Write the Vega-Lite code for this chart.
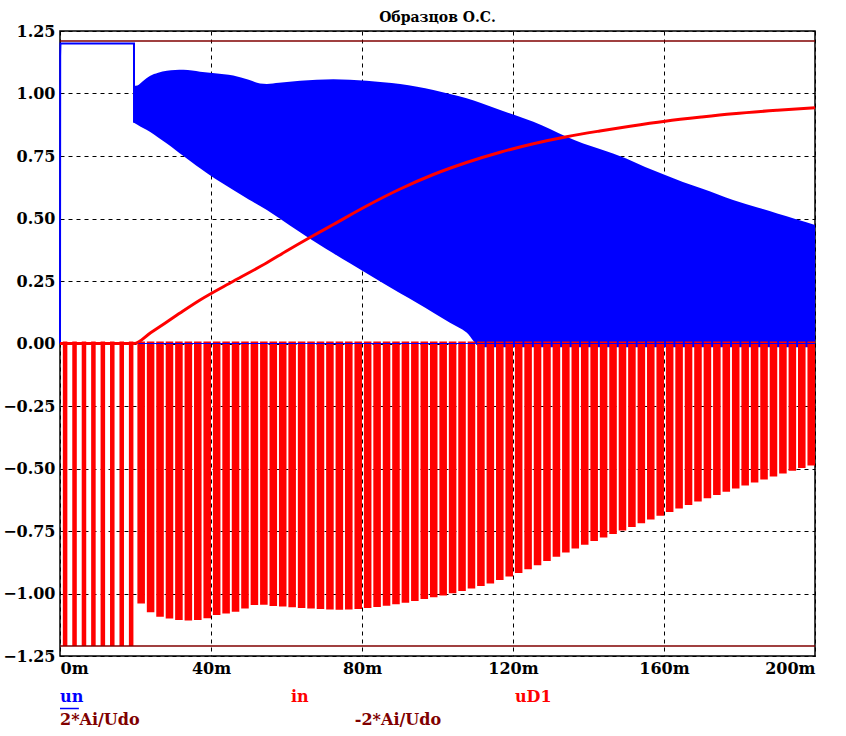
{
  "$schema": "https://vega.github.io/schema/vega-lite/v6.json",
  "autosize": {"type": "none"},
  "padding": {"left": 60, "top": 31, "right": 31, "bottom": 80},
  "width": 755,
  "height": 625,
  "background": "white",
  "title": {"text": "Образцов О.С.", "font": "DejaVu Serif", "fontWeight": "bold", "fontSize": 14, "color": "#000", "anchor": "middle", "offset": -2},
  "config": {
    "view": {"stroke": "#000", "strokeWidth": 1.5},
    "axis": {"labelFont": "DejaVu Serif", "labelFontWeight": "bold", "labelFontSize": 16, "labelColor": "#000", "ticks": false, "domain": false, "grid": true, "gridColor": "#000", "gridDash": [4, 4], "gridWidth": 1, "gridOpacity": 1, "title": null}
  },
  "datasets": {
    "band": [
      {"t": 19.6, "hi": 1.03, "lo": 0.883},
      {"t": 20.5, "hi": 1.032, "lo": 0.875},
      {"t": 22, "hi": 1.05, "lo": 0.862},
      {"t": 23.8, "hi": 1.07, "lo": 0.847},
      {"t": 26, "hi": 1.083, "lo": 0.824},
      {"t": 28.3, "hi": 1.091, "lo": 0.8},
      {"t": 30.5, "hi": 1.094, "lo": 0.775},
      {"t": 32.7, "hi": 1.095, "lo": 0.75},
      {"t": 35, "hi": 1.092, "lo": 0.724},
      {"t": 37.1, "hi": 1.087, "lo": 0.701},
      {"t": 41, "hi": 1.081, "lo": 0.66},
      {"t": 45.9, "hi": 1.072, "lo": 0.614},
      {"t": 50, "hi": 1.055, "lo": 0.576},
      {"t": 53, "hi": 1.04, "lo": 0.55},
      {"t": 54.8, "hi": 1.038, "lo": 0.534},
      {"t": 58, "hi": 1.043, "lo": 0.502},
      {"t": 63.6, "hi": 1.051, "lo": 0.445},
      {"t": 68, "hi": 1.055, "lo": 0.402},
      {"t": 72.4, "hi": 1.057, "lo": 0.361},
      {"t": 76.8, "hi": 1.055, "lo": 0.321},
      {"t": 81.2, "hi": 1.051, "lo": 0.281},
      {"t": 85.6, "hi": 1.045, "lo": 0.241},
      {"t": 90.1, "hi": 1.038, "lo": 0.201},
      {"t": 94.6, "hi": 1.027, "lo": 0.162},
      {"t": 98.9, "hi": 1.014, "lo": 0.123},
      {"t": 103.3, "hi": 0.998, "lo": 0.083},
      {"t": 107.7, "hi": 0.981, "lo": 0.044},
      {"t": 111.5, "hi": 0.962, "lo": -0.015},
      {"t": 116.6, "hi": 0.934, "lo": -0.015},
      {"t": 121, "hi": 0.911, "lo": -0.015},
      {"t": 125.4, "hi": 0.887, "lo": -0.015},
      {"t": 129.8, "hi": 0.858, "lo": -0.015},
      {"t": 134.2, "hi": 0.827, "lo": -0.015},
      {"t": 138.6, "hi": 0.8, "lo": -0.015},
      {"t": 143, "hi": 0.778, "lo": -0.015},
      {"t": 150, "hi": 0.74, "lo": -0.015},
      {"t": 155, "hi": 0.706, "lo": -0.015},
      {"t": 160.3, "hi": 0.674, "lo": -0.015},
      {"t": 165, "hi": 0.646, "lo": -0.015},
      {"t": 170, "hi": 0.62, "lo": -0.015},
      {"t": 178.3, "hi": 0.574, "lo": -0.015},
      {"t": 185, "hi": 0.543, "lo": -0.015},
      {"t": 190, "hi": 0.52, "lo": -0.015},
      {"t": 195, "hi": 0.497, "lo": -0.015},
      {"t": 200, "hi": 0.474, "lo": -0.015}
    ],
    "unStart": [
      {"t": 0, "v": 0},
      {"t": 0.05, "v": 1.15},
      {"t": 0.12, "v": 1.2},
      {"t": 19.6, "v": 1.2},
      {"t": 19.61, "v": 0.883}
    ],
    "unZero": [
      {"t": 19.6, "v": 0},
      {"t": 200, "v": 0}
    ],
    "inCurve": [
      {"t": 0, "v": 0},
      {"t": 19.6, "v": 0},
      {"t": 24, "v": 0.043},
      {"t": 28, "v": 0.083},
      {"t": 32.5, "v": 0.129},
      {"t": 37.1, "v": 0.174},
      {"t": 45.9, "v": 0.249},
      {"t": 54.8, "v": 0.323},
      {"t": 60, "v": 0.37},
      {"t": 66.2, "v": 0.424},
      {"t": 72.4, "v": 0.476},
      {"t": 81.2, "v": 0.55},
      {"t": 90.1, "v": 0.618},
      {"t": 98.9, "v": 0.676},
      {"t": 107.7, "v": 0.724},
      {"t": 116.6, "v": 0.765},
      {"t": 125.4, "v": 0.799},
      {"t": 134.2, "v": 0.827},
      {"t": 143, "v": 0.85},
      {"t": 151, "v": 0.869},
      {"t": 160.3, "v": 0.889},
      {"t": 170, "v": 0.906},
      {"t": 178.3, "v": 0.919},
      {"t": 190, "v": 0.933},
      {"t": 200, "v": 0.943}
    ],
    "spikes": [
      {"t0": 0.75, "t1": 1.95, "m": -1.21},
      {"t0": 3.25, "t1": 4.45, "m": -1.21},
      {"t0": 5.75, "t1": 6.95, "m": -1.21},
      {"t0": 8.25, "t1": 9.45, "m": -1.21},
      {"t0": 10.75, "t1": 11.95, "m": -1.21},
      {"t0": 13.25, "t1": 14.45, "m": -1.21},
      {"t0": 15.75, "t1": 16.95, "m": -1.21},
      {"t0": 18.25, "t1": 19.45, "m": -1.21},
      {"t0": 20.5, "t1": 22.5, "m": -1.04},
      {"t0": 23.0, "t1": 25.0, "m": -1.075},
      {"t0": 25.5, "t1": 27.5, "m": -1.093},
      {"t0": 28.0, "t1": 30.0, "m": -1.1},
      {"t0": 30.5, "t1": 32.5, "m": -1.106},
      {"t0": 33.0, "t1": 35.0, "m": -1.108},
      {"t0": 35.5, "t1": 37.5, "m": -1.106},
      {"t0": 38.0, "t1": 40.0, "m": -1.099},
      {"t0": 40.5, "t1": 42.5, "m": -1.086},
      {"t0": 43.0, "t1": 45.0, "m": -1.08},
      {"t0": 45.5, "t1": 47.5, "m": -1.073},
      {"t0": 48.0, "t1": 50.0, "m": -1.06},
      {"t0": 50.5, "t1": 52.5, "m": -1.046},
      {"t0": 53.0, "t1": 55.0, "m": -1.045},
      {"t0": 55.5, "t1": 57.5, "m": -1.05},
      {"t0": 58.0, "t1": 60.0, "m": -1.052},
      {"t0": 60.5, "t1": 62.5, "m": -1.055},
      {"t0": 63.0, "t1": 65.0, "m": -1.058},
      {"t0": 65.5, "t1": 67.5, "m": -1.06},
      {"t0": 68.0, "t1": 70.0, "m": -1.062},
      {"t0": 70.5, "t1": 72.5, "m": -1.064},
      {"t0": 73.0, "t1": 75.0, "m": -1.065},
      {"t0": 75.5, "t1": 77.5, "m": -1.064},
      {"t0": 78.0, "t1": 80.0, "m": -1.062},
      {"t0": 80.5, "t1": 82.5, "m": -1.058},
      {"t0": 83.0, "t1": 85.0, "m": -1.054},
      {"t0": 85.5, "t1": 87.5, "m": -1.049},
      {"t0": 88.0, "t1": 90.0, "m": -1.043},
      {"t0": 90.5, "t1": 92.5, "m": -1.037},
      {"t0": 93.0, "t1": 95.0, "m": -1.03},
      {"t0": 95.5, "t1": 97.5, "m": -1.022},
      {"t0": 98.0, "t1": 100.0, "m": -1.015},
      {"t0": 100.5, "t1": 102.5, "m": -1.008},
      {"t0": 103.0, "t1": 105.0, "m": -0.999},
      {"t0": 105.5, "t1": 107.5, "m": -0.99},
      {"t0": 108.0, "t1": 110.0, "m": -0.98},
      {"t0": 110.5, "t1": 112.5, "m": -0.97},
      {"t0": 113.0, "t1": 115.0, "m": -0.96},
      {"t0": 115.5, "t1": 117.5, "m": -0.946},
      {"t0": 118.0, "t1": 120.0, "m": -0.932},
      {"t0": 120.5, "t1": 122.5, "m": -0.918},
      {"t0": 123.0, "t1": 125.0, "m": -0.903},
      {"t0": 125.5, "t1": 127.5, "m": -0.887},
      {"t0": 128.0, "t1": 130.0, "m": -0.87},
      {"t0": 130.5, "t1": 132.5, "m": -0.853},
      {"t0": 133.0, "t1": 135.0, "m": -0.836},
      {"t0": 135.5, "t1": 137.5, "m": -0.82},
      {"t0": 138.0, "t1": 140.0, "m": -0.805},
      {"t0": 140.5, "t1": 142.5, "m": -0.79},
      {"t0": 143.0, "t1": 145.0, "m": -0.776},
      {"t0": 145.5, "t1": 147.5, "m": -0.762},
      {"t0": 148.0, "t1": 150.0, "m": -0.748},
      {"t0": 150.5, "t1": 152.5, "m": -0.734},
      {"t0": 153.0, "t1": 155.0, "m": -0.719},
      {"t0": 155.5, "t1": 157.5, "m": -0.704},
      {"t0": 158.0, "t1": 160.0, "m": -0.689},
      {"t0": 160.5, "t1": 162.5, "m": -0.674},
      {"t0": 163.0, "t1": 165.0, "m": -0.66},
      {"t0": 165.5, "t1": 167.5, "m": -0.646},
      {"t0": 168.0, "t1": 170.0, "m": -0.632},
      {"t0": 170.5, "t1": 172.5, "m": -0.619},
      {"t0": 173.0, "t1": 175.0, "m": -0.606},
      {"t0": 175.5, "t1": 177.5, "m": -0.593},
      {"t0": 178.0, "t1": 180.0, "m": -0.58},
      {"t0": 180.5, "t1": 182.5, "m": -0.568},
      {"t0": 183.0, "t1": 185.0, "m": -0.556},
      {"t0": 185.5, "t1": 187.5, "m": -0.544},
      {"t0": 188.0, "t1": 190.0, "m": -0.532},
      {"t0": 190.5, "t1": 192.5, "m": -0.52},
      {"t0": 193.0, "t1": 195.0, "m": -0.509},
      {"t0": 195.5, "t1": 197.5, "m": -0.498},
      {"t0": 198.0, "t1": 200.0, "m": -0.488}
    ],
    "limits": [
      {"v": 1.21},
      {"v": -1.21}
    ],
    "labels": [
      {"label": "un", "t": 0, "v": -1.414},
      {"label": "in", "t": 61.2, "v": -1.414},
      {"label": "uD1", "t": 120.5, "v": -1.414},
      {"label": "2*Ai/Udo", "t": 0, "v": -1.506},
      {"label": "-2*Ai/Udo", "t": 78.1, "v": -1.506}
    ]
  },
  "layer": [
    {
      "data": {"name": "band"},
      "mark": {"type": "area", "color": "#0000FF", "opacity": 1, "interpolate": "monotone"},
      "encoding": {
        "x": {"field": "t", "type": "quantitative", "scale": {"domain": [0, 200], "nice": false, "zero": false},
              "axis": {"values": [0, 40, 80, 120, 160, 200], "labelExpr": "datum.value + 'm'", "labelPadding": 4}},
        "y": {"field": "hi", "type": "quantitative", "scale": {"domain": [-1.25, 1.25], "nice": false, "zero": false},
              "axis": {"values": [-1.25, -1, -0.75, -0.5, -0.25, 0, 0.25, 0.5, 0.75, 1, 1.25], "format": ".2f", "labelPadding": 5}},
        "y2": {"field": "lo"}
      }
    },
    {
      "data": {"name": "spikes"},
      "mark": {"type": "rect", "color": "#FF0000"},
      "encoding": {
        "x": {"field": "t0", "type": "quantitative"},
        "x2": {"field": "t1"},
        "y": {"field": "m", "type": "quantitative"},
        "y2": {"datum": 0.008}
      }
    },
    {
      "data": {"name": "unStart"},
      "mark": {"type": "line", "color": "#0000FF", "strokeWidth": 2},
      "encoding": {
        "x": {"field": "t", "type": "quantitative"},
        "y": {"field": "v", "type": "quantitative"}
      }
    },
    {
      "data": {"name": "unZero"},
      "mark": {"type": "line", "color": "#0000FF", "strokeWidth": 1.2},
      "encoding": {
        "x": {"field": "t", "type": "quantitative"},
        "y": {"field": "v", "type": "quantitative"}
      }
    },
    {
      "data": {"name": "inCurve"},
      "mark": {"type": "line", "color": "#FF0000", "strokeWidth": 3, "interpolate": "monotone"},
      "encoding": {
        "x": {"field": "t", "type": "quantitative"},
        "y": {"field": "v", "type": "quantitative"}
      }
    },
    {
      "data": {"name": "limits"},
      "mark": {"type": "rule", "color": "#800000", "strokeWidth": 1.5},
      "encoding": {
        "y": {"field": "v", "type": "quantitative"}
      }
    },
    {
      "data": {"name": "labels"},
      "mark": {"type": "text", "align": "left", "baseline": "middle", "font": "DejaVu Serif", "fontWeight": "bold", "fontSize": 16},
      "encoding": {
        "x": {"field": "t", "type": "quantitative"},
        "y": {"field": "v", "type": "quantitative"},
        "text": {"field": "label"},
        "color": {"field": "label", "type": "nominal", "legend": null,
                  "scale": {"domain": ["un", "in", "uD1", "2*Ai/Udo", "-2*Ai/Udo"], "range": ["#0000FF", "#FF0000", "#FF0000", "#800000", "#800000"]}}
      }
    },
    {
      "data": {"values": [{"t": 0, "t2": 5.0, "v": -1.46}]},
      "mark": {"type": "rule", "color": "#0000FF", "strokeWidth": 1.5},
      "encoding": {
        "x": {"field": "t", "type": "quantitative"},
        "x2": {"field": "t2"},
        "y": {"field": "v", "type": "quantitative"}
      }
    }
  ]
}
